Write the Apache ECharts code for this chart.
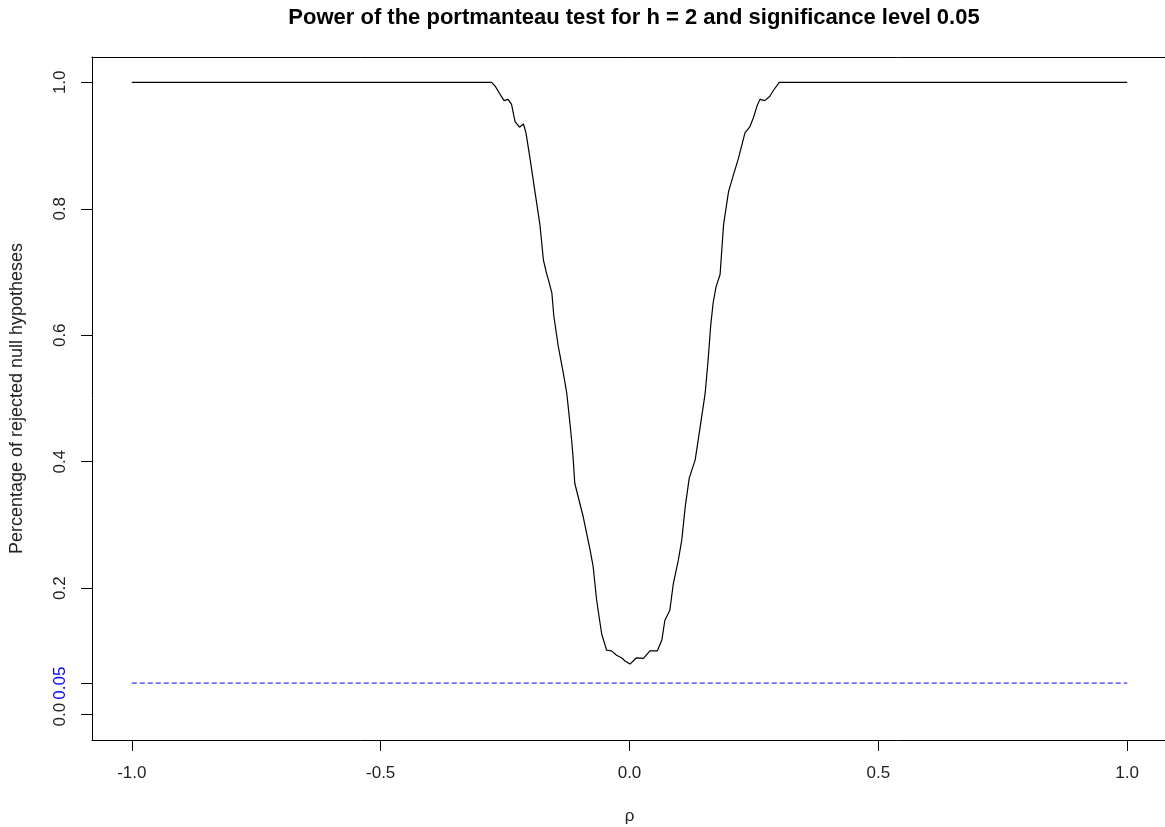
<!DOCTYPE html>
<html>
<head>
<meta charset="utf-8">
<script src="https://cdn.jsdelivr.net/npm/echarts@6/dist/echarts.min.js"></script>
<style>
html,body{margin:0;padding:0;background:#fff;}
#chart{width:1165px;height:827px;}
</style>
</head>
<body>
<div id="chart"></div>
<script>
// ---- data ----
const titleText = 'Power of the portmanteau test for h = 2 and significance level 0.05';
const xName = 'ρ';
const yName = 'Percentage of rejected null hypotheses';
const xTicks = [-1.0, -0.5, 0.0, 0.5, 1.0];
const yTicks = [0.0, 0.05, 0.2, 0.4, 0.6, 0.8, 1.0];
const alphaLevel = 0.05;
const alphaX = [-1.0, 1.0];
const rho = [
  -1.0, -0.277, -0.270, -0.260, -0.252, -0.244, -0.237, -0.230, -0.221, -0.213,
  -0.208, -0.200, -0.190, -0.180, -0.173, -0.166, -0.163, -0.156, -0.152, -0.143,
  -0.133, -0.126, -0.121, -0.116, -0.113, -0.110, -0.093, -0.079, -0.073, -0.066,
  -0.056, -0.046, -0.036, -0.026, -0.016, -0.009, 0.001, 0.014, 0.028, 0.041,
  0.056, 0.065, 0.071, 0.081, 0.088, 0.098, 0.105, 0.112, 0.120, 0.132,
  0.142, 0.152, 0.158, 0.163, 0.168, 0.174, 0.182, 0.189, 0.199, 0.209,
  0.219, 0.232, 0.242, 0.249, 0.256, 0.262, 0.272, 0.282, 0.289, 0.301, 1.0
];
const power = [
  1.0, 1.0, 0.994, 0.981, 0.971, 0.973, 0.965, 0.938, 0.929, 0.934,
  0.920, 0.880, 0.827, 0.775, 0.719, 0.696, 0.688, 0.667, 0.630, 0.582,
  0.540, 0.508, 0.471, 0.432, 0.403, 0.366, 0.313, 0.260, 0.234, 0.181,
  0.128, 0.102, 0.101, 0.094, 0.090, 0.085, 0.080, 0.090, 0.089, 0.101,
  0.101, 0.118, 0.149, 0.165, 0.207, 0.244, 0.276, 0.329, 0.374, 0.403,
  0.455, 0.508, 0.561, 0.614, 0.651, 0.677, 0.696, 0.775, 0.827, 0.854,
  0.880, 0.920, 0.930, 0.944, 0.962, 0.973, 0.971, 0.978, 0.987, 1.0, 1.0
];

const FONT = '"Liberation Sans", Arial, sans-serif';
const curve = rho.map((r, i) => [r, power[i]]);
const alphaLine = alphaX.map(x => [x, alphaLevel]);

const chart = echarts.init(document.getElementById('chart'), null, {renderer: 'canvas'});
chart.setOption({
  backgroundColor: '#fff',
  animation: false,
  title: {
    text: titleText,
    left: 629, top: 2, textAlign: 'center',
    textStyle: {fontFamily: FONT, fontWeight: 'bold', fontSize: 22, color: '#000'}
  },
  grid: {
    left: 92, top: 57, right: -2, bottom: 87,
    outerBoundsMode: 'none', containLabel: false, show: false
  },
  xAxis: [{
    type: 'value', min: -1.08, max: 1.08,
    name: xName, nameLocation: 'middle', nameGap: 68,
    nameTextStyle: {fontFamily: FONT, fontSize: 17, color: '#222'},
    axisLine: {show: true, onZero: false, lineStyle: {color: '#000', width: 1}},
    axisTick: {show: true, inside: false, length: 11, customValues: xTicks, lineStyle: {color: '#000'}},
    axisLabel: {
      show: true, margin: 25, customValues: xTicks,
      fontFamily: FONT, fontSize: 17, color: '#222',
      formatter: v => v.toFixed(1)
    },
    splitLine: {show: false}
  }, {
    type: 'value', position: 'top', min: -1.08, max: 1.08,
    axisLine: {show: true, onZero: false, lineStyle: {color: '#000', width: 1}},
    axisTick: {show: false}, axisLabel: {show: false}, splitLine: {show: false}
  }],
  yAxis: {
    type: 'value', min: -0.04, max: 1.04,
    name: yName, nameLocation: 'middle', nameGap: 66, nameRotate: 90,
    nameTextStyle: {fontFamily: FONT, fontSize: 18, color: '#222'},
    axisLine: {show: true, onZero: false, lineStyle: {color: '#000', width: 1}},
    axisTick: {show: true, inside: false, length: 11, customValues: yTicks, lineStyle: {color: '#000'}},
    axisLabel: {
      show: true, margin: 23, rotate: 90, customValues: yTicks,
      fontFamily: FONT, fontSize: 17, color: '#222',
      formatter: v => (Math.abs(v - alphaLevel) < 1e-9 ? '{b|0.05}' : v.toFixed(1)),
      rich: {b: {color: '#0000ff', fontFamily: FONT, fontSize: 17}}
    },
    splitLine: {show: false}
  },
  series: [
    {
      type: 'line', data: curve, showSymbol: false, symbol: 'none',
      lineStyle: {color: '#000', width: 1.2}, z: 3
    },
    {
      type: 'line', data: alphaLine, showSymbol: false, symbol: 'none',
      lineStyle: {color: '#0000ff', width: 1, type: [5, 3]}, z: 2
    }
  ]
});
</script>
</body>
</html>
